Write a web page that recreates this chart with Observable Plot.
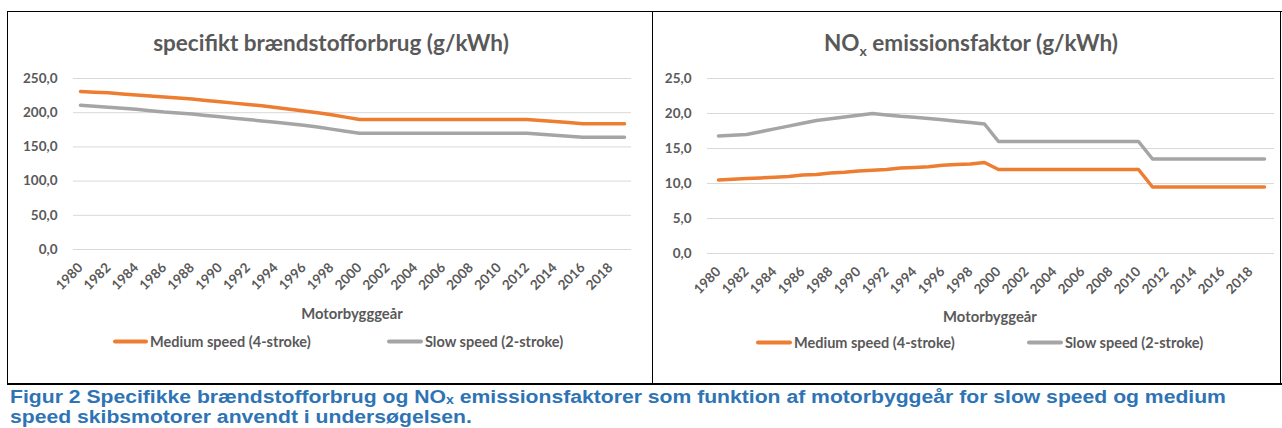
<!DOCTYPE html>
<html>
<head>
<meta charset="utf-8">
<script src="https://cdn.jsdelivr.net/npm/d3@7"></script>
<script src="https://cdn.jsdelivr.net/npm/@observablehq/plot@0.6"></script>
<style>
  html, body { margin: 0; padding: 0; background: #fff; }
  body { width: 1282px; height: 428px; position: relative; overflow: hidden; font-family: Lato, "Open Sans", sans-serif; }
  .abs { position: absolute; }
  .title { color: #595959; font-weight: 700; font-size: 22.5px; white-space: nowrap; transform: translate(-50%, -50%); }
  .title sub { font-size: 14px; vertical-align: -5px; line-height: 0; }
  .axt { color: #595959; font-weight: 700; font-size: 14.8px; white-space: nowrap; transform: translate(-50%, -50%); }
  .leg { color: #595959; font-weight: 700; font-size: 14.5px; white-space: nowrap; transform: translateY(-50%); display: flex; align-items: center; }
  .sw { display: inline-block; height: 4px; border-radius: 2px; margin-right: 2px; }
  .border { background: #000; }
  .caption { color: #2E74B5; font-family: "Liberation Sans", Arial, sans-serif; font-weight: 700; font-size: 18px; line-height: 20px; height: 20px; white-space: nowrap; transform: scaleX(1.175); transform-origin: 0 50%; }
  .caption sub { font-size: 12px; vertical-align: -1px; line-height: 0; }
</style>
</head>
<body>
<div id="left" class="abs" style="left:8px; top:12px;"></div>
<div id="right" class="abs" style="left:653px; top:12px;"></div>

<div class="abs title" style="left:331px; top:42px;">specifikt brændstofforbrug (g/kWh)</div>
<div class="abs title" style="left:971px; top:42px;">NO<sub>x</sub> emissionsfaktor (g/kWh)</div>
<div class="abs axt" style="left:352px; top:313px;">Motorbygggeår</div>
<div class="abs axt" style="left:990px; top:316px;">Motorbyggeår</div>

<div id="legL1" class="abs leg" style="left:113px; top:341px;"></div>
<div id="legL2" class="abs leg" style="left:387px; top:341px;"></div>
<div id="legR1" class="abs leg" style="left:756px; top:342px;"></div>
<div id="legR2" class="abs leg" style="left:1027px; top:342px;"></div>

<!-- table frame -->
<div class="abs border" style="left:7px; top:11px; width:1275px; height:1px;"></div>
<div class="abs border" style="left:7px; top:11px; width:1px; height:373px;"></div>
<div class="abs border" style="left:652px; top:11px; width:1px; height:373px;"></div>
<div class="abs border" style="left:1280px; top:11px; width:1px; height:373px;"></div>
<div class="abs border" style="left:7px; top:383px; width:1275px; height:2px;"></div>

<div class="abs caption" style="left:10px; top:387px;">Figur 2 Specifikke brændstofforbrug og NO<sub>x</sub> emissionsfaktorer som funktion af motorbyggeår for slow speed og medium</div>
<div class="abs caption" style="left:10px; top:407px;">speed skibsmotorer anvendt i undersøgelsen.</div>

<script>
// ---- data ----
const years = [1980,1981,1982,1983,1984,1985,1986,1987,1988,1989,
               1990,1991,1992,1993,1994,1995,1996,1997,1998,1999,
               2000,2001,2002,2003,2004,2005,2006,2007,2008,2009,
               2010,2011,2012,2013,2014,2015,2016,2017,2018,2019];
const xTickYears = [1980,1982,1984,1986,1988,1990,1992,1994,1996,1998,
                    2000,2002,2004,2006,2008,2010,2012,2014,2016,2018];
const seriesNames = ["Medium speed (4-stroke)", "Slow speed (2-stroke)"];
const seriesColors = ["#ED7D31", "#A5A5A5"];

// specifikt brændstofforbrug (g/kWh)
const fuelMedium = [231,230,229,227.5,226,224.5,223,221.5,220,218,
                    216,214,212,210,207.5,205,202.5,200,197,193.5,
                    190,190,190,190,190,190,190,190,190,190,
                    190,190,190,188.5,187,185.5,184,184,184,184];
const fuelSlow   = [211,209.5,208,206.5,205,203,201,199.5,198,196,
                    194,192,190,188,186,184,181.5,179,176,173,
                    170,170,170,170,170,170,170,170,170,170,
                    170,170,170,168.5,167,165.5,164,164,164,164];
const fuelTicks = [0,50,100,150,200,250];

// NOx emissionsfaktor (g/kWh)
const noxMedium = [10.5,10.6,10.7,10.8,10.9,11.0,11.2,11.3,11.5,11.6,
                   11.8,11.9,12.0,12.2,12.3,12.4,12.6,12.7,12.8,13.0,
                   12.0,12.0,12.0,12.0,12.0,12.0,12.0,12.0,12.0,12.0,
                   12.0,9.5,9.5,9.5,9.5,9.5,9.5,9.5,9.5,9.5];
const noxSlow   = [16.8,16.9,17.0,17.4,17.8,18.2,18.6,19.0,19.25,19.5,
                   19.75,20.0,19.8,19.6,19.45,19.3,19.1,18.9,18.7,18.5,
                   16.0,16.0,16.0,16.0,16.0,16.0,16.0,16.0,16.0,16.0,
                   16.0,13.5,13.5,13.5,13.5,13.5,13.5,13.5,13.5,13.5];
const noxTicks = [0,5,10,15,20,25];

// ---- helpers ----
const fmt = d => d.toFixed(1).replace(".", ",");
function toRows(a, b) {
  return [
    ...years.map((y, i) => ({year: y, value: a[i], series: seriesNames[0]})),
    ...years.map((y, i) => ({year: y, value: b[i], series: seriesNames[1]}))
  ];
}

function makeChart({rows, ticks, width, height, mt, mb, ml, mr}) {
  return Plot.plot({
    width, height,
    marginTop: mt, marginBottom: mb, marginLeft: ml, marginRight: mr,
    style: {fontFamily: "Lato, 'Open Sans', sans-serif", color: "#595959", background: "transparent"},
    x: {type: "point", domain: years, padding: 0.5, align: 0.5},
    y: {domain: [ticks[0], ticks[ticks.length - 1]]},
    color: {domain: seriesNames, range: seriesColors},
    marks: [
      Plot.gridY(ticks, {stroke: "#D9D9D9", strokeOpacity: 1, strokeWidth: 1}),
      Plot.axisY(ticks, {tickSize: 0, tickPadding: 16, tickFormat: fmt, fontSize: 13.5, fontWeight: 700, fill: "#595959", label: null}),
      Plot.axisX(xTickYears, {tickSize: 0, tickPadding: 16, tickRotate: -45, tickFormat: d => String(d), fontSize: 13.5, fontWeight: 700, fill: "#595959", label: null}),
      Plot.line(rows, {x: "year", y: "value", z: "series", stroke: "series", strokeWidth: 3.5, strokeLinecap: "round", strokeLinejoin: "round"})
    ]
  });
}

document.getElementById("left").append(makeChart({
  rows: toRows(fuelMedium, fuelSlow), ticks: fuelTicks,
  width: 643, height: 371, mt: 66, mb: 134, ml: 65, mr: 20
}));
document.getElementById("right").append(makeChart({
  rows: toRows(noxMedium, noxSlow), ticks: noxTicks,
  width: 627, height: 371, mt: 66, mb: 130, ml: 54, mr: 6
}));

function legend(id, i, w) {
  const el = document.getElementById(id);
  const sw = document.createElement("span");
  sw.className = "sw";
  sw.style.width = w + "px";
  sw.style.background = seriesColors[i];
  el.append(sw, document.createTextNode(seriesNames[i]));
}
legend("legL1", 0, 35);
legend("legL2", 1, 36);
legend("legR1", 0, 36);
legend("legR2", 1, 36);
</script>
</body>
</html>
